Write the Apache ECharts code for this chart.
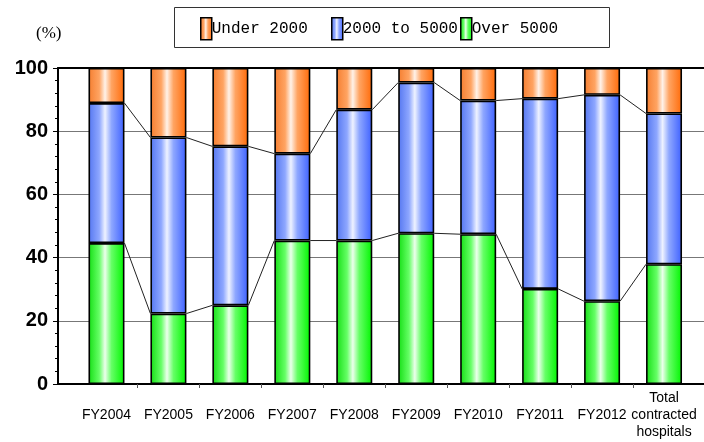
<!DOCTYPE html>
<html>
<head>
<meta charset="utf-8">
<script src="https://cdn.jsdelivr.net/npm/echarts@6/dist/echarts.min.js"></script>
<style>
  html, body { margin: 0; padding: 0; background: #fff; }
  #chart { width: 704px; height: 442px; }
</style>
</head>
<body>
<div id="chart"></div>
<script>
// Share of contracted hospitals by size band (%), per fiscal year
const categories = ['FY2004', 'FY2005', 'FY2006', 'FY2007', 'FY2008', 'FY2009', 'FY2010', 'FY2011', 'FY2012', 'Total\ncontracted\nhospitals'];
const over5000 = [44.6, 22.3, 24.9, 45.4, 45.4, 47.7, 47.4, 30.1, 26.2, 37.9];
const from2000to5000 = [44.3, 55.7, 50.3, 27.5, 41.4, 47.7, 42.3, 60.2, 65.3, 47.7];
const under2000 = [11.1, 22.0, 24.8, 27.1, 13.2, 4.6, 10.3, 9.7, 8.5, 14.4];
const yTicks = [0, 20, 40, 60, 80, 100];
const seriesNames = ['Under 2000', '2000 to 5000', 'Over 5000'];

const BAR_W = 36;

// horizontal shading: coloured edges with a pale highlight just left of centre
function hGrad(edgeL, tint, mid, edgeR) {
  return new echarts.graphic.LinearGradient(0, 0, 1, 0, [
    { offset: 0, color: edgeL },
    { offset: 0.3, color: tint },
    { offset: 0.46, color: mid },
    { offset: 0.64, color: tint },
    { offset: 1, color: edgeR }
  ]);
}
const orangeFill = hGrad('#F57E30', '#FFA462', '#FFF2E8', '#FF6A08');
const blueFill = hGrad('#5476F0', '#8EA7FF', '#EEF2FF', '#3D60FF');
const greenFill = hGrad('#14DE14', '#66FF66', '#ECFFEC', '#00F500');

// cumulative top of the lower two bands
const midTop = over5000.map((v, i) => +(v + from2000to5000[i]).toFixed(1));

// connector lines between adjacent bars at each band boundary
const connectorData = categories.slice(0, -1).map((_, i) => [i, over5000[i], over5000[i + 1], midTop[i], midTop[i + 1]]);

const barStyle = fill => ({ color: fill, borderColor: '#000', borderWidth: 1.6 });

// frame grid (0) spans the full plot frame; bar grid (1) holds the category band
const FRAME = { left: 58, right: 0, top: 68, bottom: 58 };
const BARS = { left: 75.5, right: 9, top: 68, bottom: 58 };
// frame x-scale expressed in category units so ticks/labels line up with the bands
const catStep = (704 - BARS.left - BARS.right) / categories.length;
const xMin = -(BARS.left - FRAME.left) / catStep - 0.5;
const xMax = xMin + (704 - FRAME.left - FRAME.right) / catStep;

const hidden = { show: false };

const chart = echarts.init(document.getElementById('chart'), null, { renderer: 'canvas' });
chart.setOption({
  animation: false,
  backgroundColor: '#fff',
  title: {
    text: '(%)',
    left: 31, top: 20,
    textStyle: { fontFamily: 'Liberation Serif', fontSize: 17, fontWeight: 'normal', color: '#000' }
  },
  graphic: [{
    type: 'rect',
    shape: { x: 174.5, y: 7.5, width: 435, height: 40 },
    style: { fill: '#fff', stroke: '#333', lineWidth: 1 },
    z: -1
  }],
  legend: [200, 331, 460].map((left, k) => ({
    data: [{ name: seriesNames[k], icon: 'rect' }],
    left: left, top: 17,
    padding: 0,
    itemWidth: 11, itemHeight: 22,
    selectedMode: false,
    itemStyle: { borderColor: '#000', borderWidth: 1.5 },
    textStyle: { fontFamily: 'Liberation Mono', fontSize: 16, color: '#000', padding: [0, 0, 0, -5] }
  })),
  grid: [
    Object.assign({ containLabel: false }, FRAME),
    Object.assign({ containLabel: false }, BARS)
  ],
  xAxis: [{
    gridIndex: 0,
    type: 'value',
    min: xMin, max: xMax,
    splitLine: hidden,
    axisLine: { show: true, onZero: false, lineStyle: { color: '#000', width: 2 } },
    axisTick: {
      show: true, length: 4,
      customValues: categories.slice(0, -1).map((_, i) => i + 0.5),
      lineStyle: { color: '#555', width: 1 }
    },
    axisLabel: {
      customValues: categories.map((_, i) => i),
      formatter: v => categories[Math.round(v)],
      fontFamily: 'Liberation Sans', fontSize: 14, color: '#000',
      lineHeight: 17, verticalAlign: 'middle', margin: 31
    }
  }, {
    gridIndex: 0,
    type: 'value',
    position: 'top',
    min: xMin, max: xMax,
    splitLine: hidden,
    axisLine: { show: true, onZero: false, lineStyle: { color: '#000', width: 2 } },
    axisTick: hidden,
    axisLabel: hidden
  }, {
    gridIndex: 1,
    type: 'category',
    data: categories,
    boundaryGap: true,
    show: false
  }],
  yAxis: [{
    gridIndex: 0,
    type: 'value',
    min: yTicks[0], max: yTicks[yTicks.length - 1], interval: yTicks[1] - yTicks[0],
    axisLine: { show: true, onZero: false, lineStyle: { color: '#000', width: 2 } },
    axisTick: { show: true, length: 5, lineStyle: { color: '#000', width: 1 } },
    minorTick: { show: true, splitNumber: 5, length: 3, lineStyle: { color: '#000', width: 1 } },
    splitLine: { show: true, lineStyle: { color: '#777', width: 1 } },
    axisLabel: {
      fontFamily: 'Liberation Sans', fontSize: 20, fontWeight: 'bold', color: '#000', margin: 10
    }
  }, {
    gridIndex: 1,
    type: 'value',
    min: yTicks[0], max: yTicks[yTicks.length - 1],
    show: false,
    splitLine: hidden
  }],
  series: [
    { name: 'Over 5000', type: 'bar', xAxisIndex: 2, yAxisIndex: 1, stack: 'share', barWidth: BAR_W, data: over5000, itemStyle: barStyle(greenFill) },
    { name: '2000 to 5000', type: 'bar', xAxisIndex: 2, yAxisIndex: 1, stack: 'share', barWidth: BAR_W, data: from2000to5000, itemStyle: barStyle(blueFill) },
    { name: 'Under 2000', type: 'bar', xAxisIndex: 2, yAxisIndex: 1, stack: 'share', barWidth: BAR_W, data: under2000, itemStyle: barStyle(orangeFill) },
    {
      type: 'custom',
      xAxisIndex: 2, yAxisIndex: 1,
      data: connectorData,
      clip: false,
      z: 3,
      renderItem: (params, api) => {
        const i = api.value(0);
        const half = BAR_W / 2;
        const seg = (ya, yb) => {
          const a = api.coord([i, ya]);
          const b = api.coord([i + 1, yb]);
          return {
            type: 'line',
            shape: { x1: a[0] + half, y1: a[1], x2: b[0] - half, y2: b[1] },
            style: { stroke: '#222', lineWidth: 1 }
          };
        };
        return { type: 'group', children: [seg(api.value(1), api.value(2)), seg(api.value(3), api.value(4))] };
      }
    }
  ]
});
</script>
</body>
</html>
